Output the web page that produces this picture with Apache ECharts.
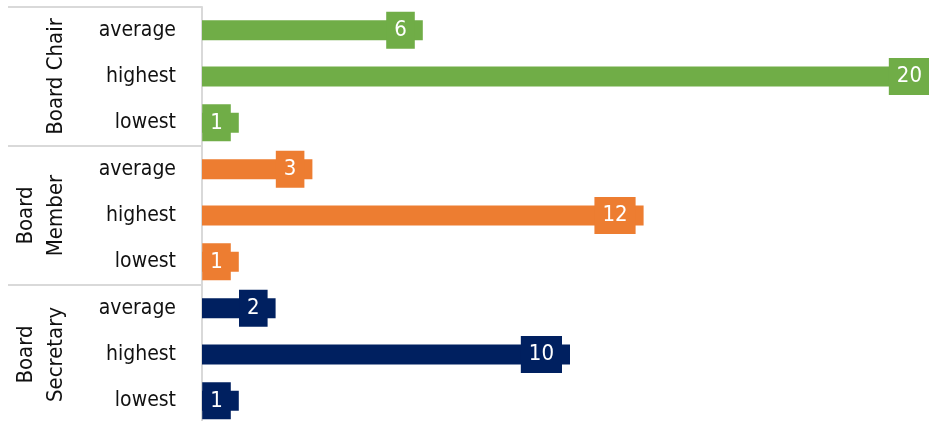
<!DOCTYPE html>
<html><head><meta charset="utf-8">
<script src="https://cdn.jsdelivr.net/npm/echarts@6/dist/echarts.min.js"></script>
<style>html,body{margin:0;padding:0;background:#fff}#c{width:929px;height:421px}</style>
</head><body><div id="c"></div>
<script>
const groups = ['Board Chair', 'Board\nMember', 'Board\nSecretary'];
const metrics = ['average', 'highest', 'lowest'];
const chairValues = [6, 20, 1];
const memberValues = [3, 12, 1];
const secretaryValues = [2, 10, 1];
const groupColors = ['#70ad47', '#ed7d31', '#002060'];

const FONT = '"Liberation Sans Narrow", "Arial Narrow", "DejaVu Sans Condensed", sans-serif';
const groupValues = [chairValues, memberValues, secretaryValues];
const categories = [];
const barData = [];
groupValues.forEach((vals, gi) => {
  vals.forEach((v, mi) => {
    categories.push(metrics[mi]);
    barData.push({
      value: v,
      itemStyle: { color: groupColors[gi] },
      label: { backgroundColor: groupColors[gi] }
    });
  });
});

const chart = echarts.init(document.getElementById('c'), null, { renderer: 'canvas' });
chart.setOption({
  animation: false,
  backgroundColor: '#ffffff',
  grid: { left: 202, top: 7, width: 736, height: 417, containLabel: false, outerBoundsMode: 'none' },
  xAxis: { type: 'value', min: 0, max: 20, show: false },
  yAxis: [
    {
      type: 'category',
      data: categories,
      inverse: true,
      axisLine: { show: true, lineStyle: { color: '#d9d9d9', width: 2 } },
      axisTick: { show: false },
      axisLabel: { interval: 0, margin: 26, fontSize: 21, color: '#111111', fontFamily: FONT }
    },
    {
      type: 'category',
      data: groups,
      inverse: true,
      position: 'left',
      axisLine: { show: false },
      axisTick: { show: true, interval: 0, length: 194, lineStyle: { color: '#d9d9d9', width: 2 } },
      axisLabel: { interval: 0, rotate: 90, margin: 131, fontSize: 22, lineHeight: 30, color: '#111111', fontFamily: FONT }
    }
  ],
  series: [{
    type: 'bar',
    yAxisIndex: 0,
    data: barData,
    barWidth: 20,
    label: {
      show: true,
      position: 'insideRight',
      distance: 8,
      color: '#ffffff',
      fontSize: 22,
      fontWeight: 500,
      lineHeight: 21,
      padding: [8, 8],
      fontFamily: FONT
    }
  }]
});
</script></body></html>
